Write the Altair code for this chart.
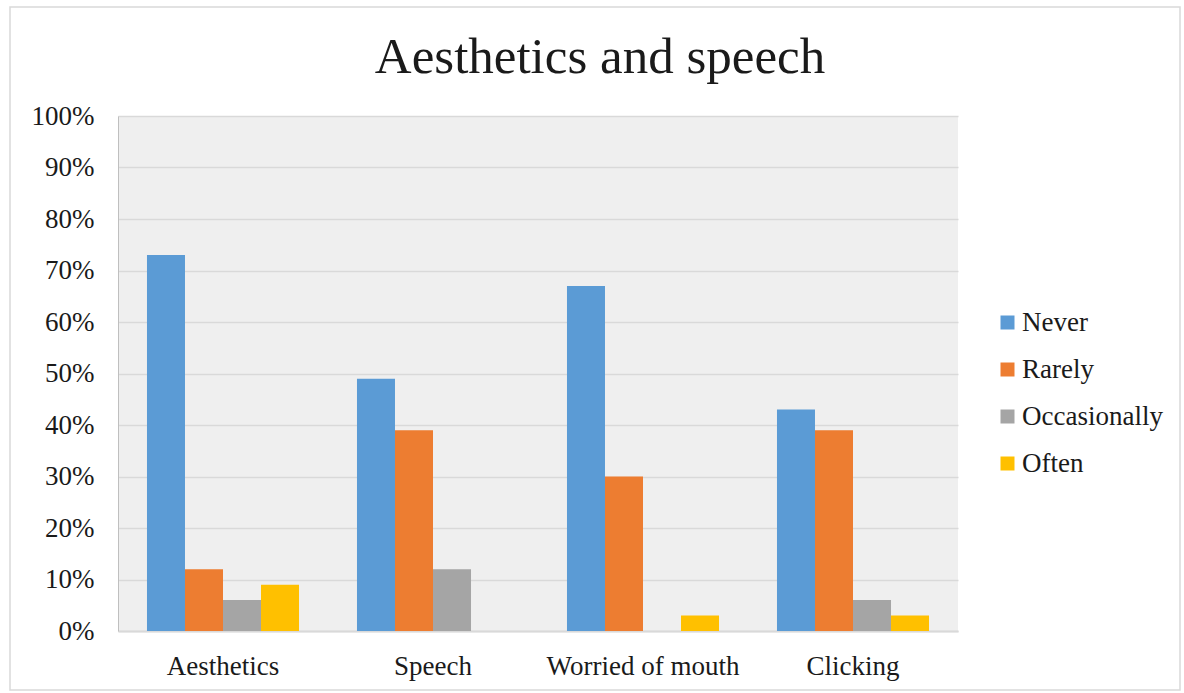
import altair as alt
import pandas as pd

# Survey responses by topic (share of respondents)
categories = ["Aesthetics", "Speech", "Worried of mouth", "Clicking"]
answers = ["Never", "Rarely", "Occasionally", "Often"]
never = [0.73, 0.49, 0.67, 0.43]
rarely = [0.12, 0.39, 0.30, 0.39]
occasionally = [0.06, 0.12, 0.00, 0.06]
often = [0.09, 0.00, 0.03, 0.03]
colors = ["#5b9bd5", "#ed7d31", "#a5a5a5", "#ffc000"]

rows = []
for series_name, values in zip(answers, [never, rarely, occasionally, often]):
    for cat, v in zip(categories, values):
        rows.append({"category": cat, "answer": series_name, "share": v})
df = pd.DataFrame(rows)

FONT = "Liberation Serif"

bars = alt.Chart(df).mark_bar().encode(
    x=alt.X(
        "category:N",
        sort=categories,
        title=None,
        scale=alt.Scale(paddingInner=0.276, paddingOuter=0.138),
        axis=alt.Axis(
            labelAngle=0, ticks=False, labelPadding=22, labelFontSize=27,
            labelFont=FONT, labelColor="#1a1a1a", labelLimit=400,
            domainColor="#d9d9d9", domainWidth=2, grid=False,
        ),
    ),
    xOffset=alt.XOffset("answer:N", sort=answers, scale=alt.Scale(paddingInner=0, paddingOuter=0)),
    y=alt.Y(
        "share:Q",
        title=None,
        scale=alt.Scale(domain=[0, 1], nice=False),
        axis=alt.Axis(
            format=".0%", values=[i / 10 for i in range(11)], ticks=False,
            labelPadding=24, labelFontSize=27, labelFont=FONT,
            labelColor="#1a1a1a", domainColor="#bfbfbf", gridColor="#d9d9d9",
            gridWidth=1.5,
        ),
    ),
    color=alt.Color(
        "answer:N",
        sort=answers,
        scale=alt.Scale(domain=answers, range=colors),
        legend=alt.Legend(
            title=None, orient="none", legendX=876, legendY=193,
            symbolType="square", symbolSize=196, symbolStrokeWidth=0,
            labelFontSize=27, labelFont=FONT, labelColor="#1a1a1a",
            labelOffset=1, rowPadding=19,
        ),
    ),
)

# Light outer frame around the whole figure
frame = alt.Chart(pd.DataFrame({"k": [0]})).mark_rect(
    fill=None, stroke="#d9d9d9", strokeWidth=1.5
).encode(
    x=alt.value(-108), x2=alt.value(1062), y=alt.value(-109), y2=alt.value(574)
)

chart = alt.layer(frame, bars).properties(
    width=840,
    height=515,
    padding={"left": 118, "top": 116, "right": 226, "bottom": 62},
    autosize=alt.AutoSizeParams(type="none"),
    background="white",
    title=alt.Title(
        "Aesthetics and speech", font=FONT, fontSize=51, fontWeight="normal",
        color="#1a1a1a", anchor="middle", dx=62, offset=-78,
    ),
).configure_view(
    fill="#efefef", stroke=None
)

chart.save("out.html", embed_options={"renderer": "svg", "actions": False})
